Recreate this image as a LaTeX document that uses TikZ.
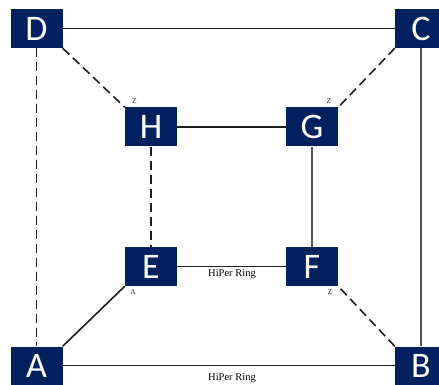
\documentclass[tikz,border=0pt]{standalone}
\usepackage{fontspec}
\setmainfont{Liberation Serif}
\newfontfamily\boxfont{Carlito}
\definecolor{navy}{RGB}{0,32,96}
\definecolor{linec}{RGB}{30,30,30}
\definecolor{linel}{RGB}{80,80,80}
\begin{document}
\begin{tikzpicture}[x=1pt,y=-1pt,
  sw/.style={rectangle,fill=navy,text=white,inner sep=0pt,minimum width=52pt,minimum height=39pt,font=\boxfont\fontsize{36}{36}\selectfont},
  swedge/.style={sw,minimum width=44pt},
  solidln/.style={draw=linec,line width=1.6pt},
  lightln/.style={draw=linel,line width=1.4pt},
  dashln/.style={draw=linec,line width=1.6pt,dash pattern=on 9pt off 5pt},
  lbl/.style={font=\fontsize{10.5}{11}\selectfont,text=black,inner sep=0pt},
  tiny/.style={font=\fontsize{7.5}{7.5}\selectfont,text=black!80,inner sep=0pt}]
\useasboundingbox (0,0) rectangle (439,385);
\fill[white] (0,0) rectangle (439,385);
% nodes
\node[sw] (D) at (36.5,28.5) {D};
\node[swedge] (C) at (417,28.5) {\hspace{8pt}C};
\node[sw,minimum height=38pt] (A) at (36.5,365.5) {A};
\node[swedge,minimum height=38pt] (B) at (417,365.5) {\hspace{8pt}B};
\node[sw] (H) at (151,127) {H};
\node[sw] (G) at (312,127) {G};
\node[sw] (E) at (151,266.5) {E};
\node[sw] (F) at (312,266.5) {F};
% connectors
\draw[solidln] (D) -- (C);
\draw[solidln] (A) -- (B);
\draw[dashln] (D) -- (A);
\draw[lightln] ([xshift=4pt]C.south) -- ([xshift=4pt]B.north);
\draw[solidln] (H) -- (G);
\draw[solidln] (E) -- (F);
\draw[dashln] (H) -- (E);
\draw[lightln] (G) -- (F);
\draw[dashln] (D.south east) -- (H.north west);
\draw[dashln] (C.south west) -- (G.north east);
\draw[solidln] (A.north east) -- (E.south west);
\draw[dashln] (B.north west) -- (F.south east);
% labels
\node[lbl] (l1) at (232,274.5) {HiPer Ring};
\node[lbl] (l2) at (232,378) {HiPer Ring};
\node[tiny] (z1) at (134.5,101) {Z};
\node[tiny] (z2) at (329,101) {Z};
\node[tiny] (a1) at (133,292) {A};
\node[tiny] (z3) at (330,292) {Z};
\end{tikzpicture}
\end{document}
